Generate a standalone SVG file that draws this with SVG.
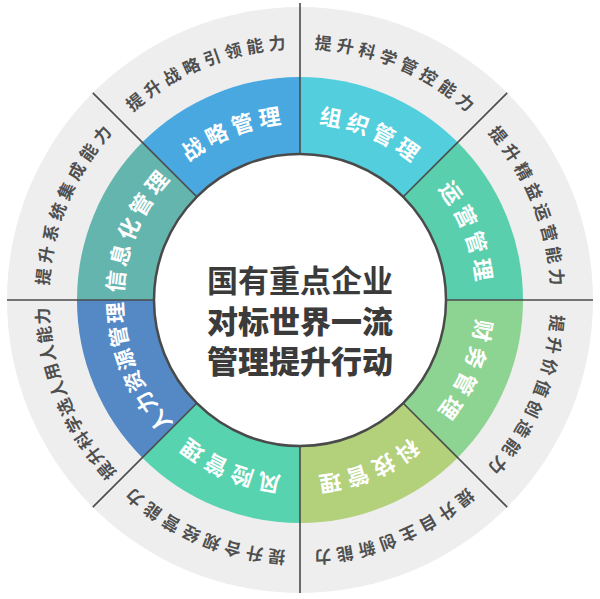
<svg xmlns="http://www.w3.org/2000/svg" width="600" height="599" viewBox="0 0 600 599">
<style>
.outer{font-family:"Noto Sans CJK SC","Liberation Sans",sans-serif;font-size:17px;font-weight:700;fill:#4f4f4f}
.inner{font-family:"Noto Sans CJK SC","Liberation Sans",sans-serif;font-size:22px;font-weight:700;fill:#ffffff}
.div{stroke:#4a4a4a;stroke-width:1.6}
.ctr{font-family:"Noto Sans CJK SC","Liberation Sans",sans-serif;font-size:31px;fill:#3b3b3b;text-anchor:middle}
</style>
<defs>
<path id="o1" d="M100.47,146.90 A251.5,251.5 0 0 1 332.83,50.65"/>
<path id="o2" d="M267.17,50.65 A251.5,251.5 0 0 1 499.53,146.90"/>
<path id="o3" d="M453.10,100.47 A251.5,251.5 0 0 1 549.35,332.83"/>
<path id="o4" d="M549.35,267.17 A251.5,251.5 0 0 1 453.10,499.53"/>
<path id="o5" d="M499.53,453.10 A251.5,251.5 0 0 1 267.17,549.35"/>
<path id="o6" d="M332.83,549.35 A251.5,251.5 0 0 1 100.47,453.10"/>
<path id="o7" d="M146.90,499.53 A251.5,251.5 0 0 1 50.65,267.17"/>
<path id="o8" d="M50.65,332.83 A251.5,251.5 0 0 1 146.90,100.47"/>
<path id="i1" d="M159.58,192.25 A177,177 0 0 1 323.10,124.52"/>
<path id="i2" d="M276.90,124.52 A177,177 0 0 1 440.42,192.25"/>
<path id="i3" d="M407.75,159.58 A177,177 0 0 1 475.48,323.10"/>
<path id="i4" d="M475.48,276.90 A177,177 0 0 1 407.75,440.42"/>
<path id="i5" d="M440.42,407.75 A177,177 0 0 1 276.90,475.48"/>
<path id="i6" d="M323.10,475.48 A177,177 0 0 1 159.58,407.75"/>
<path id="i7" d="M192.25,440.42 A177,177 0 0 1 124.52,276.90"/>
<path id="i8" d="M124.52,323.10 A177,177 0 0 1 192.25,159.58"/>
</defs>
<rect width="600" height="599" fill="#ffffff"/>
<circle cx="300" cy="300" r="293" fill="#eeeeee"/>

<g id="seg-zhanlue">
<path d="M300,300 L142.32,142.32 A223,223 0 0 1 300,77 Z" fill="#4aa8e0"/>
<text class="inner" letter-spacing="4.7"><textPath href="#i1" startOffset="41.63">战略管理</textPath></text>
<text class="outer" letter-spacing="4.7"><textPath href="#o1" startOffset="47.24">提升战略引领能力</textPath></text>
</g>
<g id="seg-zuzhi">
<path d="M300,300 L300,77 A223,223 0 0 1 457.68,142.32 Z" fill="#52cedc"/>
<text class="inner" letter-spacing="4.7"><textPath href="#i2" startOffset="41.63">组织管理</textPath></text>
<text class="outer" letter-spacing="4.7"><textPath href="#o2" startOffset="47.24">提升科学管控能力</textPath></text>
</g>
<g id="seg-yunying">
<path d="M300,300 L457.68,142.32 A223,223 0 0 1 523,300 Z" fill="#5acfae"/>
<text class="inner" letter-spacing="4.7"><textPath href="#i3" startOffset="41.63">运营管理</textPath></text>
<text class="outer" letter-spacing="4.7"><textPath href="#o3" startOffset="47.24">提升精益运营能力</textPath></text>
</g>
<g id="seg-caiwu">
<path d="M300,300 L523,300 A223,223 0 0 1 457.68,457.68 Z" fill="#8dd391"/>
<text class="inner" letter-spacing="4.7"><textPath href="#i4" startOffset="41.63">财务管理</textPath></text>
<text class="outer" letter-spacing="4.7"><textPath href="#o4" startOffset="47.24">提升价值创造能力</textPath></text>
</g>
<g id="seg-keji">
<path d="M300,300 L457.68,457.68 A223,223 0 0 1 300,523 Z" fill="#b3d07a"/>
<text class="inner" letter-spacing="4.7"><textPath href="#i5" startOffset="41.63">科技管理</textPath></text>
<text class="outer" letter-spacing="4.7"><textPath href="#o5" startOffset="47.24">提升自主创新能力</textPath></text>
</g>
<g id="seg-fengxian">
<path d="M300,300 L300,523 A223,223 0 0 1 142.32,457.68 Z" fill="#57d3af"/>
<text class="inner" letter-spacing="4.7"><textPath href="#i6" startOffset="41.63">风险管理</textPath></text>
<text class="outer" letter-spacing="4.7"><textPath href="#o6" startOffset="47.24">提升合规经营能力</textPath></text>
</g>
<g id="seg-renli">
<path d="M300,300 L142.32,457.68 A223,223 0 0 1 77,300 Z" fill="#5489c6"/>
<text class="inner" style="font-size:21px" letter-spacing="1.8"><textPath href="#i7" startOffset="25.18">人力资源管理</textPath></text>
<text class="outer" letter-spacing="1.4"><textPath href="#o7" startOffset="40.39">提升科学选人用人能力</textPath></text>
</g>
<g id="seg-xinxi">
<path d="M300,300 L77,300 A223,223 0 0 1 142.32,142.32 Z" fill="#65b5af"/>
<text class="inner" letter-spacing="3.9"><textPath href="#i8" startOffset="29.88">信息化管理</textPath></text>
<text class="outer" letter-spacing="4.7"><textPath href="#o8" startOffset="47.24">提升系统集成能力</textPath></text>
</g>

<g id="connectors">
<line class="div" x1="300" y1="154" x2="300" y2="3"/>
<line class="div" x1="403.24" y1="196.76" x2="507.18" y2="92.82"/>
<line class="div" x1="446" y1="300" x2="593" y2="300"/>
<line class="div" x1="403.24" y1="403.24" x2="507.18" y2="507.18"/>
<line class="div" x1="300" y1="446" x2="300" y2="593"/>
<line class="div" x1="196.76" y1="403.24" x2="92.82" y2="507.18"/>
<line class="div" x1="154" y1="300" x2="7" y2="300"/>
<line class="div" x1="196.76" y1="196.76" x2="92.82" y2="92.82"/>
</g>

<g id="center">
<circle cx="300" cy="300" r="146" fill="#ffffff" stroke="#4a4a4a" stroke-width="2.5"/>
<text class="ctr" x="300" y="292" font-weight="700">国有重点企业</text>
<text class="ctr" x="300" y="333" font-weight="900">对标世界一流</text>
<text class="ctr" x="300" y="373" font-weight="900">管理提升行动</text>
</g>
</svg>
